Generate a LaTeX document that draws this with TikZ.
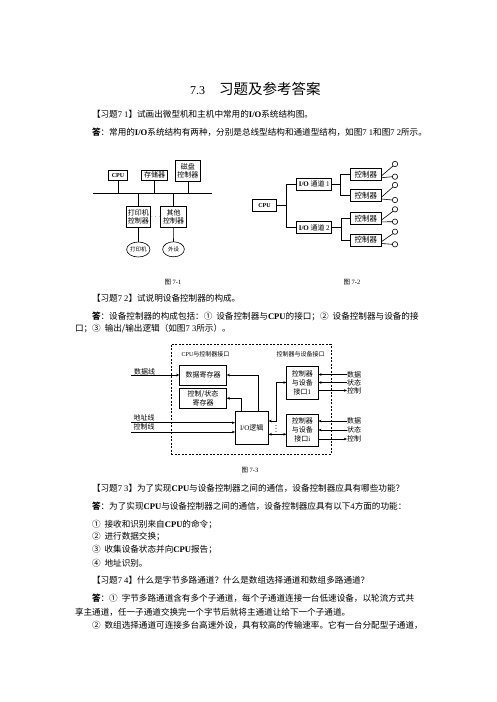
\documentclass[tikz,border=0pt]{standalone}
\usepackage{fontspec}
\setmainfont{Noto Sans CJK SC}
\newfontfamily\latf{Liberation Serif}
\newcommand\LT[1]{{\latf #1}}
\newcommand\LB[1]{{\latf\bfseries #1}}
\newcommand\fsz[2]{\fontsize{#1}{#2}\selectfont}
\usetikzlibrary{arrows.meta,shapes.geometric}
\begin{document}
\begin{tikzpicture}[x=1pt,y=-1pt,
  every node/.style={inner sep=0pt, outer sep=0pt},
  txt/.style={anchor=west, font=\fsz{8.6}{10}},
  bx/.style={draw, line width=0.8pt, align=center, font=\fsz{7}{8.5}},
  rb/.style={draw, line width=0.9pt, align=center, font=\fsz{7}{9}},
  ln/.style={line width=0.6pt},
  arr/.style={line width=0.5pt, -{Stealth[length=3.2pt,width=2.6pt]}},
  darr/.style={line width=0.5pt, {Stealth[length=3.2pt,width=2.6pt]}-{Stealth[length=3.2pt,width=2.6pt]}},
  captxt/.style={font=\fsz{6.5}{7}},
  lab/.style={anchor=west, font=\fsz{7}{8}},
  tinylab/.style={anchor=west, font=\fsz{6}{7}},
  circ/.style={circle, draw, line width=0.6pt, minimum size=5.4pt},
]
\useasboundingbox (0,0) rectangle (496,702);
\fill[white] (0,0) rectangle (496,702);

% ---------- title and text ----------
\node[anchor=west] (title) at (190,89) {\fsz{12}{14}\LT{7.3}\hspace{14pt}\fsz{14.5}{16}习题及参考答案};
\node[txt] (t1) at (92,114) {【习题\LT{7 1}】试画出微型机和主机中常用的\LB{I/O}系统结构图。};
\node[txt] (t2) at (92,132) {{\bfseries 答}：常用的\LB{I/O}系统结构有两种，分别是总线型结构和通道型结构，如图\LT{7 1}和图\LT{7 2}所示。};

\node[txt] (t3) at (92,298.3) {【习题\LT{7 2}】试说明设备控制器的构成。};
\node[txt] (t4) at (92,316.5) {{\bfseries 答}：设备控制器的构成包括：①\hspace{4pt}设备控制器与\LB{CPU}的接口；②\hspace{4pt}设备控制器与设备的接};
\node[txt] (t5) at (75,329) {口；③\hspace{4pt}输出/输出逻辑（如图\LT{7 3}所示）。};

\node[txt] (t6) at (92,488.3) {【习题\LT{7 3}】为了实现\LB{CPU}与设备控制器之间的通信，设备控制器应具有哪些功能？};
\node[txt] (t7) at (92,506.7) {{\bfseries 答}：为了实现\LB{CPU}与设备控制器之间的通信，设备控制器应具有以下\LT{4}方面的功能：};
\node[txt] (t8) at (92,524.3) {①\hspace{4pt}接收和识别来自\LB{CPU}的命令；};
\node[txt] (t9) at (92,537) {②\hspace{4pt}进行数据交换；};
\node[txt] (t10) at (92,550) {③\hspace{4pt}收集设备状态并向\LB{CPU}报告；};
\node[txt] (t11) at (92,563.3) {④\hspace{4pt}地址识别。};
\node[txt] (t12) at (92,580) {【习题\LT{7 4}】什么是字节多路通道？什么是数组选择通道和数组多路通道？};
\node[txt] (t13) at (92,598.3) {{\bfseries 答}：①\hspace{4pt}字节多路通道含有多个子通道，每个子通道连接一台低速设备，以轮流方式共};
\node[txt] (t14) at (75,612) {享主通道，任一子通道交换完一个字节后就将主通道让给下一个子通道。};
\node[txt] (t15) at (92,625) {②\hspace{4pt}数组选择通道可连接多台高速外设，具有较高的传输速率。它有一台分配型子通道，};

% ---------- Fig 7-1 ----------
\node[bx, minimum width=19.5, minimum height=10, font=\latf\bfseries\fsz{6}{7}] (cpu1) at (118,175.3) {CPU};
\node[bx, minimum width=25.5, minimum height=10] (mem) at (154.5,175.3) {存储器};
\node[bx, minimum width=25.7, minimum height=21.7] (disk) at (187.8,170.8) {磁盘\\控制器};
\coordinate (busL) at (93,193.3);
\coordinate (busR) at (212,193.3);
\draw[line width=0.9pt] (busL) -- (busR);
\draw[ln] (cpu1.south) -- (cpu1.south |- busL);
\draw[ln] (mem.south) -- (mem.south |- busL);
\draw[ln] (disk.south) -- (disk.south |- busL);
\node[bx, minimum width=24.7, minimum height=21.7] (prc) at (138.3,216.8) {打印机\\控制器};
\node[bx, minimum width=26, minimum height=21.7] (oth) at (173.7,216.8) {其他\\控制器};
\draw[ln] (prc.north) -- (prc.north |- busL);
\draw[ln] (oth.north) -- (oth.north |- busL);
\node[font=\fsz{6}{6}] (dd) at (155.6,216.7) {$\cdots$};
\node[ellipse, draw, line width=0.6pt, minimum width=23.3, minimum height=15, font=\fsz{5.5}{6}] (prn) at (138.3,249.5) {打印机};
\node[ellipse, draw, line width=0.6pt, minimum width=21.7, minimum height=15, font=\fsz{5.5}{6}] (ext) at (173.5,249.3) {外设};
\draw[ln] (prc.south) -- (prn.north);
\draw[ln] (oth.south) -- (ext.north);
\node[captxt] (cap1) at (173,281.7) {图 \LT{7-1}};

% ---------- Fig 7-2 ----------
\node[bx, minimum width=24.4, minimum height=12.4, font=\latf\bfseries\fsz{6}{7}] (cpu2) at (264.5,205.5) {CPU};
\node[bx, minimum width=35, minimum height=11.5] (ch1) at (314.2,184.2) {\LB{I/O} 通道 \LT{1}};
\node[bx, minimum width=35, minimum height=11.5] (ch2) at (314.2,227.5) {\LB{I/O} 通道 \LT{2}};
\coordinate (j1) at (286.7,205.5);
\draw[ln] (cpu2.east) -- (j1);
\draw[ln] (ch1.west) -| (j1);
\draw[ln] (ch2.west) -| (j1);
\foreach \i/\yy/\ua/\ub in {1/174.2/164/176.7,2/195.5/185/200,3/218.4/209.3/221.7,4/240/231.7/244.3}{
  \node[bx, minimum width=31.7, minimum height=12, font=\fsz{7.5}{8}] (k\i) at (365.8,\yy) {控制器};
  \node[circ] (ca\i) at (395,\ua) {};
  \node[circ] (cb\i) at (395,\ub) {};
  \draw[ln] ([yshift=-1.5pt]k\i.east) -- (ca\i.south west);
  \draw[ln] ([yshift=-3.5pt]k\i.east) -- (cb\i.west);
}
\coordinate (j2) at (340.7,184.2);
\draw[ln] (ch1.east) -- (j2);
\draw[ln] (k1.west) -| (j2);
\draw[ln] (k2.west) -| (j2);
\coordinate (j3) at (341,227.5);
\draw[ln] (ch2.east) -- (j3);
\draw[ln] (k3.west) -| (j3);
\draw[ln] (k4.west) -| (j3);
\node[captxt] (cap2) at (352,281.7) {图 \LT{7-2}};

% ---------- Fig 7-3 ----------
\node[draw, dash pattern=on 2pt off 1.5pt, line width=0.5pt, minimum width=159.7, minimum height=110.3] (frame) at (250.9,399.2) {};
\node[tinylab] (lab1) at (181.7,354) {\LT{CPU}与控制器接口};
\node[tinylab] (lab2) at (276.7,354) {控制器与设备接口};
\node[rb, minimum width=47.4, minimum height=20] (dreg) at (203,375) {数据寄存器};
\node[rb, minimum width=47.4, minimum height=20, font=\fsz{7}{8.5}] (csreg) at (203,398.3) {控制/状态\\寄存器};
\node[rb, minimum width=33.5, minimum height=33.5] (iol) at (251.8,427.7) {\LT{I/O}逻辑};
\node[lab] (ldata) at (134,371.5) {数据线};
\coordinate (din) at (131,375);
\draw[arr] (din) -- (dreg.west);
\node[lab] (laddr) at (133.5,418.3) {地址线};
\node[lab] (lctl) at (133.5,427.3) {控制线};
\coordinate (ain) at (131,422.7);
\coordinate (cin) at (131,432);
\draw[arr] (ain) -- (ain -| iol.west);
\draw[arr] (cin) -- (cin -| iol.west);
\coordinate (u1) at (258,375);
\coordinate (u2) at (241.7,398.3);
\draw[arr] (iol.north -| u1) -- (u1) -- (dreg.east);
\draw[arr] (iol.north -| u2) -- (u2) -- (csreg.east);
\node[rb, minimum width=31.8, minimum height=33] (dev1) at (302.4,382.5) {控制器\\与设备\\接口\LT{1}};
\node[rb, minimum width=31.8, minimum height=32] (dev2) at (302.4,430.3) {控制器\\与设备\\接口\LT{i}};
\coordinate (io1) at ([yshift=6.7pt]iol.east);
\coordinate (io2) at ([yshift=-6.6pt]iol.east);
\coordinate (r1) at (276,382.5);
\draw[darr] (io1) -| (r1) -- (dev1.west);
\draw[darr] (io2) -- (io2 -| dev2.west);
\foreach \dy in {425.3,428.3,431.3}{ \fill (276,\dy) circle (0.55pt); }
\node[lab] (sa1) at (347,374.5) {数据};
\node[lab] (sb1) at (347,382.5) {状态};
\node[lab] (sc1) at (347,390.5) {控制};
\draw[arr] (sa1.west) -- (sa1.west -| dev1.east);
\draw[arr] (sb1.west) -- (sb1.west -| dev1.east);
\draw[arr] (sc1.west -| dev1.east) -- (sc1.west);
\node[lab] (sa2) at (347,421) {数据};
\node[lab] (sb2) at (347,430) {状态};
\node[lab] (sc2) at (347,439) {控制};
\draw[arr] (sa2.west) -- (sa2.west -| dev2.east);
\draw[arr] (sb2.west) -- (sb2.west -| dev2.east);
\draw[arr] (sc2.west -| dev2.east) -- (sc2.west);
\node[captxt] (cap3) at (250,470) {图 \LT{7-3}};
\end{tikzpicture}
\end{document}
